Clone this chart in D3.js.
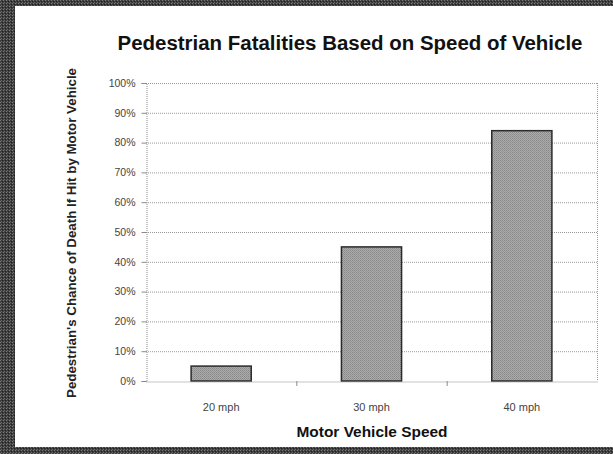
<!DOCTYPE html>
<html>
<head>
<meta charset="utf-8">
<script src="https://cdn.jsdelivr.net/npm/d3@7/dist/d3.min.js"></script>
<style>
  html, body { margin: 0; padding: 0; background: #fff; }
  svg { display: block; }
</style>
</head>
<body>
<svg id="chart" width="613" height="454"></svg>
<script>
const categories = ["20 mph", "30 mph", "40 mph"];
const values = [5, 45, 84];
const yTicks = [0, 10, 20, 30, 40, 50, 60, 70, 80, 90, 100];
const titleText = "Pedestrian Fatalities Based on Speed of Vehicle";
const xTitleText = "Motor Vehicle Speed";
const yTitleText = "Pedestrian's Chance of Death If Hit by Motor Vehicle";

const W = 613, H = 454;
const svg = d3.select("#chart");
const defs = svg.append("defs");

// dithered frame pattern
const fp = defs.append("pattern").attr("id", "frame").attr("width", 3).attr("height", 3)
  .attr("patternUnits", "userSpaceOnUse");
fp.append("rect").attr("width", 3).attr("height", 3).attr("fill", "#3e3e3e");
fp.append("rect").attr("x", 0).attr("y", 0).attr("width", 1).attr("height", 1).attr("fill", "#7a7a7a");
fp.append("rect").attr("x", 2).attr("y", 1).attr("width", 1).attr("height", 1).attr("fill", "#1e1e1e");
fp.append("rect").attr("x", 1).attr("y", 2).attr("width", 1).attr("height", 1).attr("fill", "#666");

// dithered bar pattern
const bp = defs.append("pattern").attr("id", "barfill").attr("width", 2).attr("height", 2)
  .attr("patternUnits", "userSpaceOnUse");
bp.append("rect").attr("width", 2).attr("height", 2).attr("fill", "#acacac");
bp.append("rect").attr("x", 0).attr("y", 0).attr("width", 1).attr("height", 1).attr("fill", "#868686");
bp.append("rect").attr("x", 1).attr("y", 1).attr("width", 1).attr("height", 1).attr("fill", "#949494");

svg.append("rect").attr("width", W).attr("height", H).attr("fill", "url(#frame)");
svg.append("rect").attr("x", 15).attr("y", 6).attr("width", W - 15).attr("height", 441).attr("fill", "#fff");

const plot = { left: 146, right: 597, top: 83, bottom: 381 };

const x = d3.scaleBand().domain(categories).range([plot.left, plot.right])
  .paddingInner(0.6).paddingOuter(0.3);
const y = d3.scaleLinear().domain([0, 100]).range([plot.bottom, plot.top]);

// gridlines
svg.append("g").selectAll("line").data(yTicks.filter(d => d > 0)).join("line")
  .attr("x1", plot.left).attr("x2", plot.right)
  .attr("y1", d => y(d) + 0.5).attr("y2", d => y(d) + 0.5)
  .attr("stroke", "#9a9a9a").attr("stroke-width", 1).attr("stroke-dasharray", "1,1");

// right border
svg.append("line").attr("x1", plot.right + 0.5).attr("x2", plot.right + 0.5)
  .attr("y1", plot.top).attr("y2", plot.bottom)
  .attr("stroke", "#9a9a9a").attr("stroke-dasharray", "1,1");

// bars
svg.append("g").selectAll("rect").data(values).join("rect")
  .attr("x", (d, i) => x(categories[i]))
  .attr("y", d => y(d))
  .attr("width", x.bandwidth())
  .attr("height", d => plot.bottom - y(d))
  .attr("fill", "url(#barfill)")
  .attr("stroke", "#2a2a2a").attr("stroke-width", 1.5);

// y axis
const yAxis = svg.append("g").attr("transform", `translate(${plot.left + 0.5},0)`)
  .call(d3.axisLeft(y).tickValues(yTicks).tickSize(5).tickPadding(6).tickFormat(d => d + "%"));
yAxis.select(".domain").attr("stroke", "#8a8a8a").attr("stroke-dasharray", "1,1");
yAxis.selectAll(".tick line").attr("stroke", "#8a8a8a");
yAxis.selectAll(".tick text").attr("font-family", "Liberation Sans, Arial, sans-serif")
  .attr("font-size", 10.5).attr("fill", "#444");

// x axis
const xAxis = svg.append("g").attr("transform", `translate(0,${plot.bottom + 0.5})`)
  .call(d3.axisBottom(x).tickSize(0).tickPadding(22));
xAxis.select(".domain").attr("stroke", "#8a8a8a").attr("stroke-dasharray", "1,1");
xAxis.selectAll(".tick text").attr("font-family", "Liberation Sans, Arial, sans-serif")
  .attr("font-size", 11).attr("fill", "#444");
// category separator ticks
const step = x.step();
svg.append("g").selectAll("line").data(categories.slice(1)).join("line")
  .attr("x1", d => x(d) - x.paddingInner() * step / 2 + 0.5)
  .attr("x2", d => x(d) - x.paddingInner() * step / 2 + 0.5)
  .attr("y1", plot.bottom).attr("y2", plot.bottom + 5)
  .attr("stroke", "#8a8a8a");

// titles
svg.append("text").attr("x", 350).attr("y", 50).attr("text-anchor", "middle")
  .attr("font-family", "Liberation Sans Narrow, Arial Narrow, Liberation Sans, sans-serif")
  .attr("font-weight", "bold").attr("font-size", 20).attr("fill", "#111")
  .attr("textLength", 465).attr("lengthAdjust", "spacingAndGlyphs")
  .text(titleText);

svg.append("text").attr("x", 372).attr("y", 437).attr("text-anchor", "middle")
  .attr("font-family", "Liberation Sans Narrow, Arial Narrow, Liberation Sans, sans-serif")
  .attr("font-weight", "bold").attr("font-size", 14.5).attr("fill", "#111")
  .attr("textLength", 151).attr("lengthAdjust", "spacingAndGlyphs")
  .text(xTitleText);

svg.append("text").attr("transform", "translate(76,233) rotate(-90)").attr("text-anchor", "middle")
  .attr("font-family", "Liberation Sans Narrow, Arial Narrow, Liberation Sans, sans-serif")
  .attr("font-weight", "bold").attr("font-size", 12.5).attr("fill", "#222")
  .attr("textLength", 330).attr("lengthAdjust", "spacingAndGlyphs")
  .text(yTitleText);
</script>
</body>
</html>
